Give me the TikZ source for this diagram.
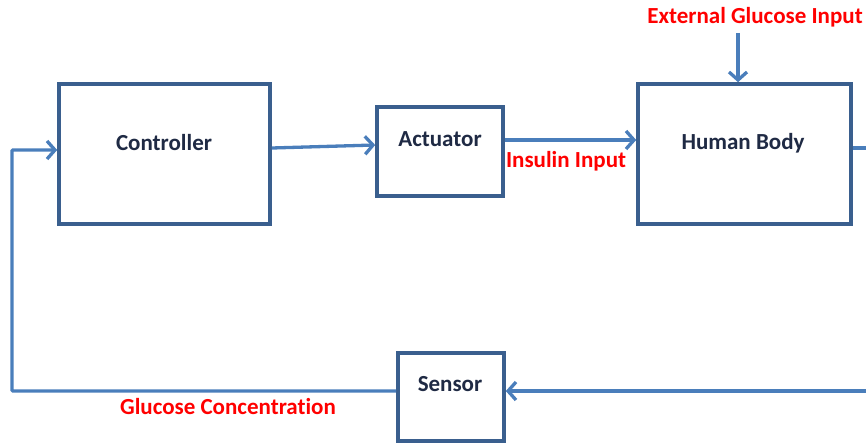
\documentclass[tikz,border=0pt]{standalone}
\usepackage{fontspec}
\setmainfont[RawFeature=-liga]{Carlito}
\usetikzlibrary{arrows.meta}
\definecolor{boxc}{HTML}{3A5F8E}
\definecolor{arrc}{HTML}{4A7EBB}
\definecolor{txtc}{HTML}{1F2A44}
\definecolor{redc}{HTML}{FF0000}
\tikzset{
  box/.style={draw=boxc, line width=3.6pt, fill=white, inner sep=0pt},
  lbl/.style={text=txtc, font=\fontsize{23}{26}\selectfont\bfseries, inner sep=0pt},
  rlbl/.style={text=redc, font=\fontsize{23}{26}\selectfont\bfseries, inner sep=0pt},
  arr/.style={draw=arrc, line width=3.3pt, -{Straight Barb[length=8pt,width=18pt,line width=3.3pt]}},
  ln/.style={draw=arrc, line width=3.3pt}
}
\begin{document}
\begin{tikzpicture}[x=1pt,y=-1pt]
\useasboundingbox (0,0) rectangle (866,444);
% boxes
\node[box, minimum width=211pt, minimum height=140pt] (ctrl) at (164.5,154) {};
\node[box, minimum width=126pt, minimum height=89pt] (act) at (440,151.5) {};
\node[box, minimum width=213pt, minimum height=140pt] (hb) at (744.5,154) {};
\node[box, minimum width=106pt, minimum height=88pt] (sens) at (451,397) {};
% box texts
\node[lbl] (ctrlt) at (164,143) {Controller};
\node[lbl] (actt) at (440,139) {Actuator};
\node[lbl] (hbt) at (743,143) {Human Body};
\node[lbl] (senst) at (450,384) {Sensor};
% red labels
\node[rlbl] (ext) at (755,17) {External Glucose Input};
\node[rlbl] (ins) at (566,161) {Insulin Input};
\node[rlbl] (gc) at (228,407) {Glucose Concentration};
% coordinates
\coordinate (extc) at (738,33);
\coordinate (rt1) at (866,148);
\coordinate (rt2) at (866,391);
\coordinate (fb1) at (12,391);
\coordinate (fb2) at (12,150);
% connectors
\draw[arr] (ctrl.east |- 0,148) -- (act.west |- 0,145);
\draw[arr] (act.east |- 0,140) -- (hb.west |- 0,140);
\draw[arr] (extc) -- (hb.north -| extc);
\draw[ln] (hb.east |- rt1) -- (rt1);
\draw[arr] (rt2) -- (sens.east |- rt2);
\draw[arr, rounded corners=1pt] (sens.west |- fb1) -- (fb1) -- (fb2) -- (ctrl.west |- fb2);
\end{tikzpicture}
\end{document}
